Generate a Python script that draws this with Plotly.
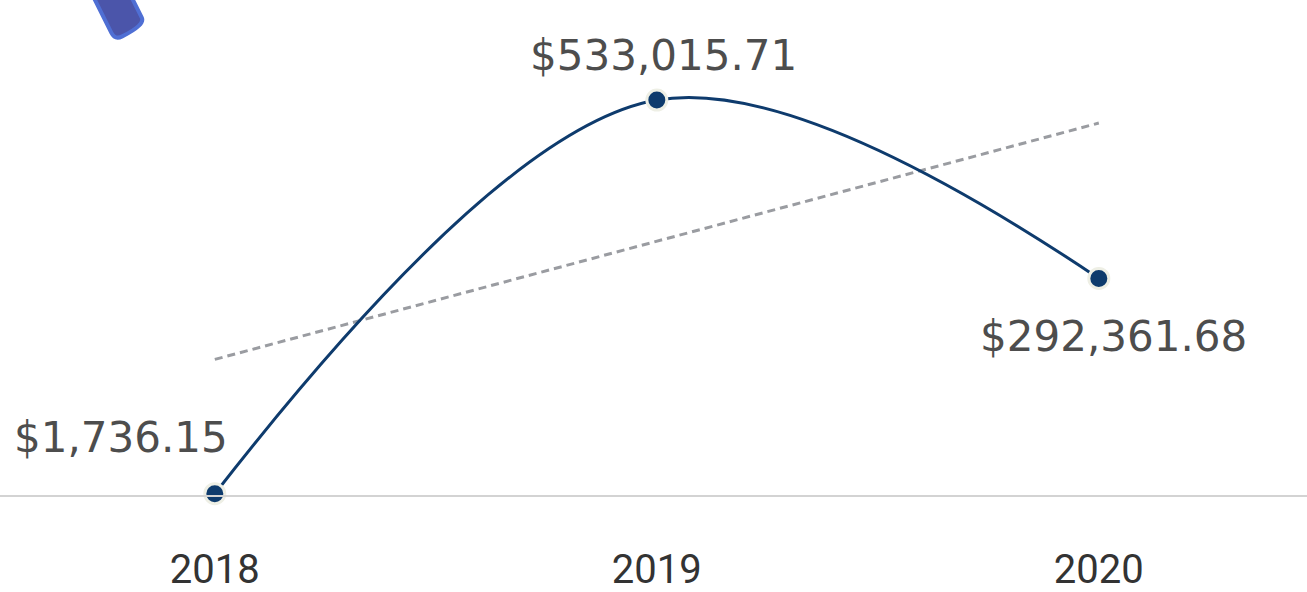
import plotly.graph_objects as go

years = [2018, 2019, 2020]
sales = [1736.15, 533015.71, 292361.68]
labels = ["$1,736.15", "$533,015.71", "$292,361.68"]
trend_years = [2018, 2020]
trend_values = [183000, 502000]

W, H = 1307, 592
PLOT_H = 495

fig = go.Figure()

fig.add_trace(go.Scatter(
    x=trend_years, y=trend_values, mode="lines",
    line=dict(color="#9a9ca1", width=3, dash="8px,5px"),
    hoverinfo="skip", showlegend=False,
))

fig.add_trace(go.Scatter(
    x=years, y=sales, mode="lines+markers",
    line=dict(color="#0e3b6d", width=3, shape="spline", smoothing=1.0),
    marker=dict(size=20, color="#0e3b6d", line=dict(color="#eeefe5", width=3)),
    cliponaxis=False, showlegend=False,
))

# data labels
offsets = [dict(xanchor="right", xshift=15, yshift=56),
           dict(xanchor="center", xshift=7, yshift=45),
           dict(xanchor="center", xshift=15, yshift=-58)]
for x, y, t, o in zip(years, sales, labels, offsets):
    fig.add_annotation(x=x, y=y, text=t, showarrow=False, yanchor="middle",
                       font=dict(family="DejaVu Sans", size=42, color="#4d4d4d"), **o)

# decorative tilted rounded bar at top-left (pixel -> paper)
def P(px, py):
    return f"{px / W:.5f},{(PLOT_H - py) / PLOT_H:.5f}"

pts = [(79.2, -31.5), (111.4, 32.8), (115, 40), (122.2, 36.4),
       (145.4, 24.8), (141.8, 17.6), (109.6, -46.7)]
path = (f"M{P(*pts[0])} L{P(*pts[1])} Q{P(*pts[2])} {P(*pts[3])} "
        f"L{P(*pts[3])} Q{P(*pts[4])} {P(*pts[5])} L{P(*pts[6])} Z")
fig.add_shape(type="path", xref="paper", yref="paper", path=path,
              fillcolor="#4b55aa", line=dict(color="#4f6fd4", width=4))

fig.update_layout(
    width=W, height=H,
    margin=dict(l=0, r=0, t=0, b=H - PLOT_H),
    paper_bgcolor="white", plot_bgcolor="white",
    xaxis=dict(range=[2017.514, 2020.471], tickvals=years,
               ticktext=[str(y) for y in years],
               showgrid=False, zeroline=False, showline=True,
               linecolor="#d3d3d3", linewidth=1.5, ticks="",
               ticklabelstandoff=38,
               tickfont=dict(family="Roboto", size=40, color="#333333")),
    yaxis=dict(range=[0, 668100], showgrid=False, zeroline=False,
               showticklabels=False, showline=False),
)

fig.write_html("out.html", config={"displayModeBar": False},
               post_script="document.body.style.margin='0';document.body.style.overflow='hidden';")
